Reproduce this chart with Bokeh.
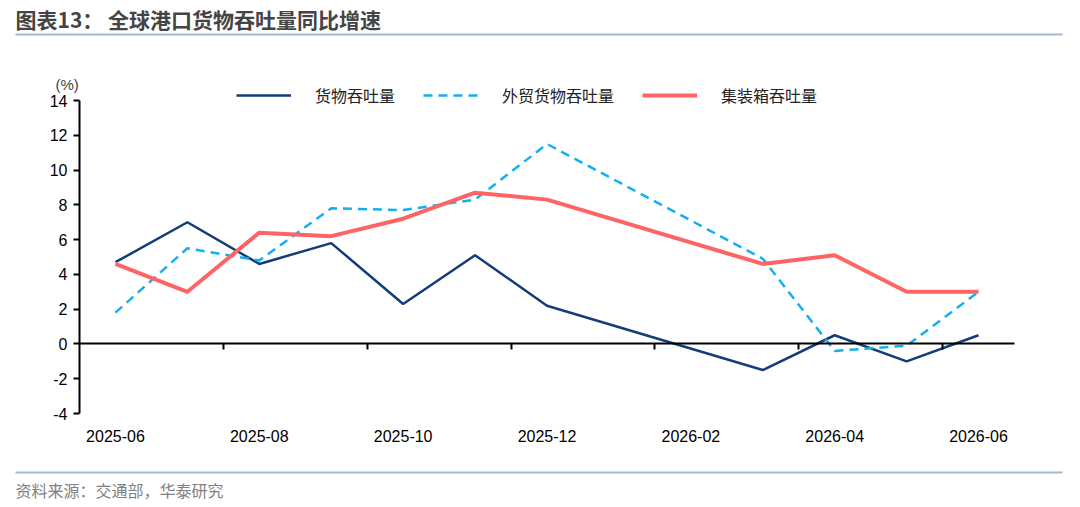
from bokeh.plotting import figure
from bokeh.models import (Legend, LegendItem, LinearAxis, FixedTicker, Label,
                          BoxAnnotation, Range1d)
from bokeh.embed import file_html
from bokeh.resources import INLINE

# data (YoY growth, %), Jan/Feb 2026 not published
months = ["2025-06", "2025-07", "2025-08", "2025-09", "2025-10", "2025-11", "2025-12",
          "2026-01", "2026-02", "2026-03", "2026-04", "2026-05", "2026-06"]
cargo = [4.7, 7.0, 4.6, 5.8, 2.3, 5.1, 2.2, None, None, -1.5, 0.5, -1.0, 0.5]
foreign_trade = [1.8, 5.5, 4.8, 7.8, 7.7, 8.3, 11.5, None, None, 4.9, -0.4, -0.1, 3.0]
container = [4.6, 3.0, 6.4, 6.2, 7.2, 8.7, 8.3, None, None, 4.6, 5.1, 3.0, 3.0]
y_ticks = [-4, -2, 0, 2, 4, 6, 8, 10, 12, 14]

CN_FONT = "Noto Sans CJK SC"
NUM_FONT = "Liberation Sans"

# canvas and plot-area geometry (px); the frame fills the whole canvas
W, H = 1080, 507
AREA_L, AREA_R, AREA_T, AREA_B = 79, 1014, 100, 413


def points(vals):
    # skip missing months so the line joins across the gap
    xs = [i for i, v in enumerate(vals) if v is not None]
    ys = [v for v in vals if v is not None]
    return xs, ys


xlo, xhi = -0.5, len(months) - 0.5
ylo, yhi = y_ticks[0], y_ticks[-1]
kx = (AREA_R - AREA_L) / (xhi - xlo)
ky = (AREA_B - AREA_T) / (yhi - ylo)

p = figure(width=W, height=H, output_backend="svg", toolbar_location=None,
           x_range=Range1d(xlo - AREA_L / kx, xhi + (W - AREA_R) / kx),
           y_range=Range1d(ylo - (H - AREA_B) / ky, yhi + AREA_T / ky),
           x_axis_location=None, y_axis_location=None, min_border=0)
p.outline_line_color = None
p.grid.visible = False
p.background_fill_color = "white"
p.border_fill_color = "white"

# value axis
yaxis = LinearAxis(fixed_location=xlo, bounds=(ylo, yhi), ticker=FixedTicker(ticks=y_ticks),
                   major_label_overrides={t: str(t) for t in y_ticks},
                   axis_line_color="black", axis_line_width=2,
                   major_tick_line_color="black", major_tick_line_width=2,
                   major_tick_out=6, major_tick_in=0, minor_tick_line_color=None,
                   major_label_standoff=6, major_label_text_font=NUM_FONT,
                   major_label_text_font_size="16px", major_label_text_color="black")
p.add_layout(yaxis, "left")

# month labels at the low end
label_ticks = list(range(0, len(months), 2))
xaxis = LinearAxis(fixed_location=ylo, bounds=(xlo, xhi), ticker=FixedTicker(ticks=label_ticks),
                   major_label_overrides={i: months[i] for i in label_ticks},
                   axis_line_color=None, major_tick_line_color=None, minor_tick_line_color=None,
                   major_tick_out=0, major_tick_in=0, major_label_standoff=16,
                   major_label_text_font=NUM_FONT, major_label_text_font_size="16px",
                   major_label_text_color="black")
p.add_layout(xaxis, "below")

# axis line through zero with ticks between category pairs
bound_ticks = [i + 1.5 for i in range(0, len(months) - 1, 2)]
zero_axis = LinearAxis(fixed_location=0, bounds=(xlo, xhi), ticker=FixedTicker(ticks=bound_ticks),
                       major_label_overrides={t: "" for t in bound_ticks},
                       major_label_text_font_size="1px",
                       axis_line_color="black", axis_line_width=2,
                       major_tick_line_color="black", major_tick_line_width=2,
                       major_tick_out=6, major_tick_in=0, minor_tick_line_color=None)
p.add_layout(zero_axis, "below")

xs, ys = points(cargo)
r1 = p.line(xs, ys, line_color="#123d78", line_width=2.5)
xs, ys = points(foreign_trade)
r2 = p.line(xs, ys, line_color="#14aff0", line_width=2.5, line_dash="9 6")
xs, ys = points(container)
r3 = p.line(xs, ys, line_color="#ff6464", line_width=4)

legend = Legend(items=[LegendItem(label="货物吞吐量", renderers=[r1]),
                       LegendItem(label="外贸货物吞吐量", renderers=[r2]),
                       LegendItem(label="集装箱吞吐量", renderers=[r3])],
                orientation="horizontal", location=(236, H - 107), padding=0, margin=0,
                spacing=28, glyph_width=55, glyph_height=20, label_height=20,
                label_standoff=24, label_text_font=CN_FONT, label_text_font_size="16px",
                label_text_color="#222222", border_line_color=None, background_fill_alpha=0)
p.add_layout(legend)

p.add_layout(Label(x=55, y=H - 84, x_units="screen", y_units="screen", text="(%)",
                   text_font=NUM_FONT, text_font_size="15px", text_baseline="middle"))

# header and footer
p.add_layout(Label(x=15, y=H - 18, x_units="screen", y_units="screen",
                   text="图表13：  全球港口货物吞吐量同比增速", text_font=CN_FONT,
                   text_font_size="21px", text_font_style="bold", text_baseline="middle"))
for top in (H - 33, 36):
    p.add_layout(BoxAnnotation(left=15, right=1062, bottom=top - 2, top=top,
                               left_units="screen", right_units="screen",
                               bottom_units="screen", top_units="screen",
                               fill_color="#a3b6d2", fill_alpha=1, line_color=None))
p.add_layout(Label(x=15, y=H - 489, x_units="screen", y_units="screen",
                   text="资料来源：交通部，华泰研究", text_font=CN_FONT,
                   text_font_size="16px", text_color="#808080", text_baseline="middle"))

open("out.html", "w").write(file_html(p, INLINE))
